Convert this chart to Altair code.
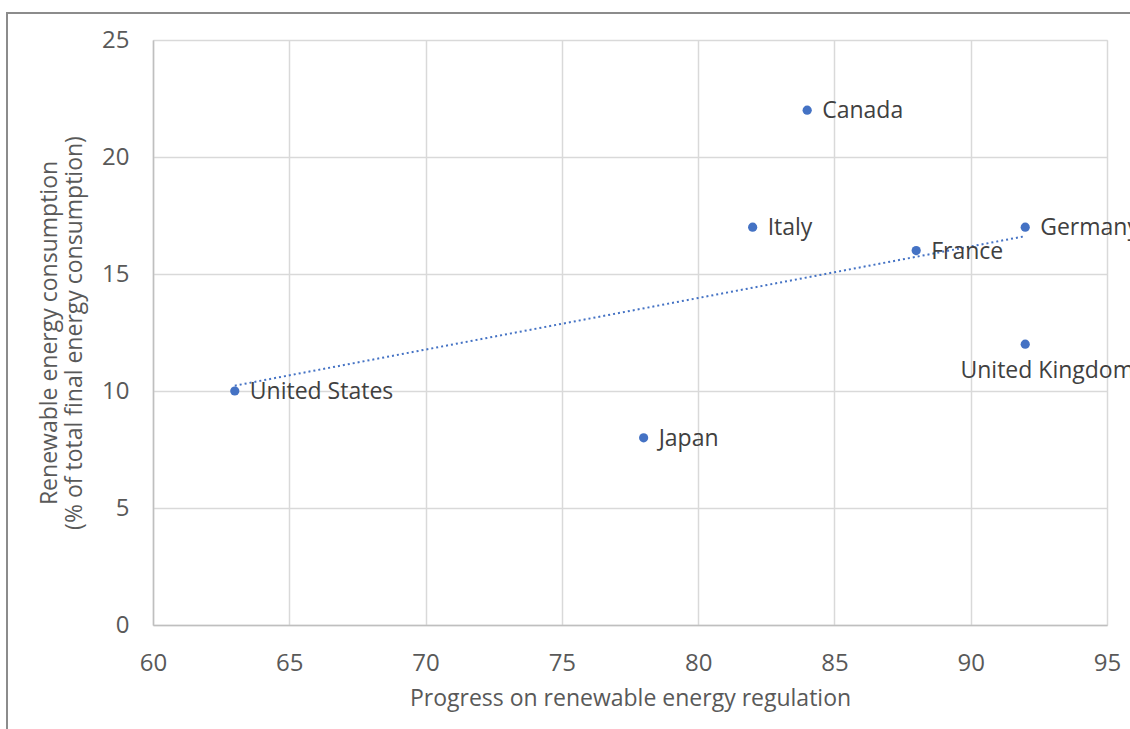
import altair as alt
import pandas as pd

# Countries: regulation progress score vs. renewable share of final energy use
countries = ["United States", "Japan", "Italy", "Canada", "France", "Germany", "United Kingdom"]
regulation = [63, 78, 82, 84, 88, 92, 92]
renewables = [10, 8, 17, 22, 16, 17, 12]

df = pd.DataFrame({"country": countries, "regulation": regulation, "renewables": renewables})
df["below"] = df["country"] == "United Kingdom"

FONT = "Open Sans"
BLUE = "#4472C4"
TEXT = "#404040"
AXIS_TEXT = "#595959"
TICK_FS = 24
FS = 23

x_enc = alt.X("regulation:Q", scale=alt.Scale(domain=[60, 95], nice=False, zero=False),
              axis=alt.Axis(values=list(range(60, 96, 5)), title="Progress on renewable energy regulation",
                            labelFontSize=TICK_FS, labelColor=AXIS_TEXT, labelPadding=26, labelFlush=False,
                            titleFontSize=FS, titleColor=AXIS_TEXT, titleFontWeight="normal",
                            titlePadding=12, ticks=False, domainColor="#bfbfbf", domainWidth=1.5,
                            gridColor="#d9d9d9", gridWidth=1.5))
y_enc = alt.Y("renewables:Q", scale=alt.Scale(domain=[0, 25], nice=False),
              axis=alt.Axis(values=list(range(0, 26, 5)),
                            title=["Renewable energy consumption", "(% of total final energy consumption)"],
                            labelFontSize=TICK_FS, labelColor=AXIS_TEXT, labelPadding=24, labelFlush=False,
                            titleFontSize=FS, titleColor=AXIS_TEXT, titleFontWeight="normal",
                            titlePadding=15, titleLineHeight=25, ticks=False, domainColor="#bfbfbf",
                            domainWidth=1.5, gridColor="#d9d9d9", gridWidth=1.5))

base = alt.Chart(df)

points = base.mark_circle(size=85, color=BLUE, opacity=1).encode(x=x_enc, y=y_enc)

trend = base.mark_line(color=BLUE, strokeDash=[2, 3], strokeWidth=2).transform_regression(
    "regulation", "renewables"
).encode(x="regulation:Q", y="renewables:Q")

labels_right = base.transform_filter("!datum.below").mark_text(
    align="left", baseline="middle", dx=15, dy=1, font=FONT, fontSize=FS, color=TEXT
).encode(x="regulation:Q", y="renewables:Q", text="country:N")

labels_below = base.transform_filter("datum.below").mark_text(
    align="center", baseline="middle", dx=22, dy=27, font=FONT, fontSize=FS, color=TEXT
).encode(x="regulation:Q", y="renewables:Q", text="country:N")

# Outer frame around the whole chart
frame = alt.Chart(pd.DataFrame({"k": [0]})).mark_rect(
    fill=None, stroke="#8c8c8c", strokeWidth=2
).encode(x=alt.value(-146), x2=alt.value(1100), y=alt.value(-27), y2=alt.value(800))

chart = alt.layer(frame, trend, points, labels_right, labels_below).properties(
    width=954, height=585,
    padding={"left": 153, "top": 40, "right": 23, "bottom": 104},
    autosize=alt.AutoSizeParams(type="none"),
).configure_view(stroke=None).configure(font=FONT).configure_axis(labelFont=FONT, titleFont=FONT)

chart.save("out.html", embed_options={"renderer": "svg", "actions": False})
